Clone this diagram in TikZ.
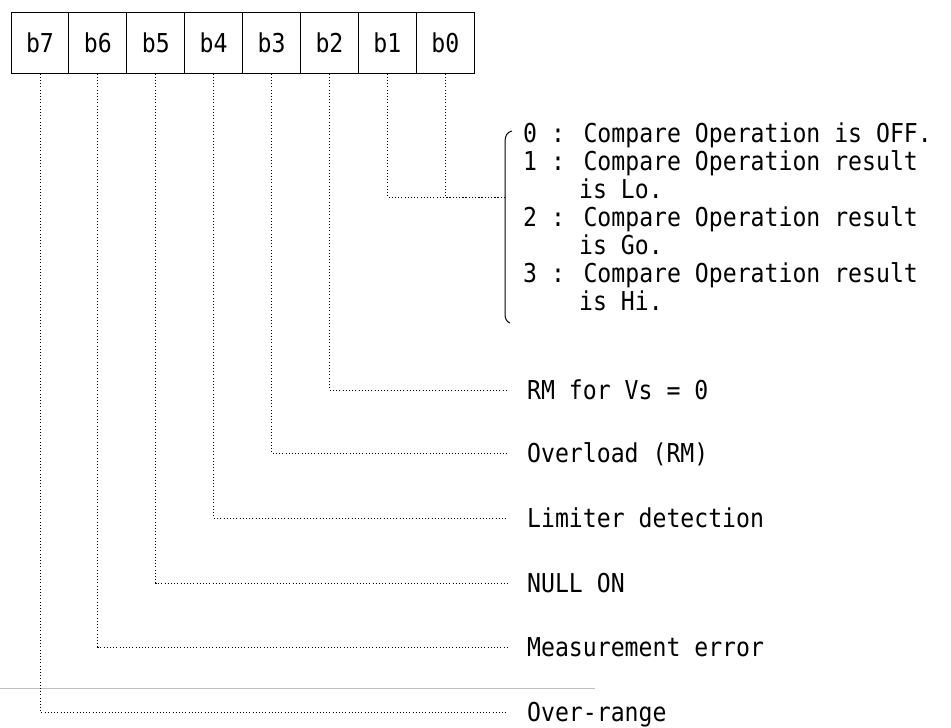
\documentclass[tikz,border=0pt]{standalone}
\usepackage{fontspec}
\newfontfamily\scanmono[FakeStretch=0.89]{DejaVu Sans Mono}
\begin{document}
\begin{tikzpicture}[x=1pt,y=-1pt,
  cell/.style={draw,line width=1pt,minimum width=57.9pt,minimum height=61pt,inner sep=0pt,anchor=center,font=\scanmono\fontsize{26}{26}\selectfont},
  dotline/.style={line width=0.9pt,dash pattern=on 1pt off 2.2pt},
  lbl/.style={anchor=base west,inner sep=0pt,font=\scanmono\fontsize{26}{28}\selectfont}]
\useasboundingbox (0,0) rectangle (951,728);
% faint scan line
\draw[black!25,line width=0.8pt] (0,688) -- (595,688);
% register cells
\foreach \i/\t in {0/7,1/6,2/5,3/4,4/3,5/2,6/1,7/0}{
  \node[cell] (c\t) at ({11+57.9*(\i+0.5)},42.5) {b\t};
}
% endpoints
\coordinate (j10) at (505,197);
\coordinate (e2) at (508,390);
\coordinate (e3) at (508,453);
\coordinate (e4) at (508,518);
\coordinate (e5) at (508,583);
\coordinate (e6) at (508,647);
\coordinate (e7) at (508,712);
% connectors
\draw[dotline] (c0.south) |- (j10);
\draw[dotline] (c1.south) |- (j10);
\foreach \k in {2,...,7}{
  \draw[dotline] (c\k.south) |- (e\k);
}
% bracket
\draw[line width=1pt] (512,131) .. controls (507,132) and (505,136) .. (505,142) -- (505,314) .. controls (505,319) and (507,322) .. (510,323);
% bracket texts
\node[lbl] (t0) at (523,142) {0 : Compare Operation is OFF.};
\node[lbl] (t1) at (523,170) {1 : Compare Operation result};
\node[lbl] (t1b) at (579,198) {is Lo.};
\node[lbl] (t2) at (523,226) {2 : Compare Operation result};
\node[lbl] (t2b) at (579,254) {is Go.};
\node[lbl] (t3) at (523,282) {3 : Compare Operation result};
\node[lbl] (t3b) at (579,310) {is Hi.};
% labels
\node[lbl] (l2) at (527,399.5) {RM for Vs = 0};
\node[lbl] (l3) at (527,462.5) {Overload (RM)};
\node[lbl] (l4) at (527,527.5) {Limiter detection};
\node[lbl] (l5) at (527,592.5) {NULL ON};
\node[lbl] (l6) at (527,656.5) {Measurement error};
\node[lbl] (l7) at (527,721.5) {Over-range};
\end{tikzpicture}
\end{document}
